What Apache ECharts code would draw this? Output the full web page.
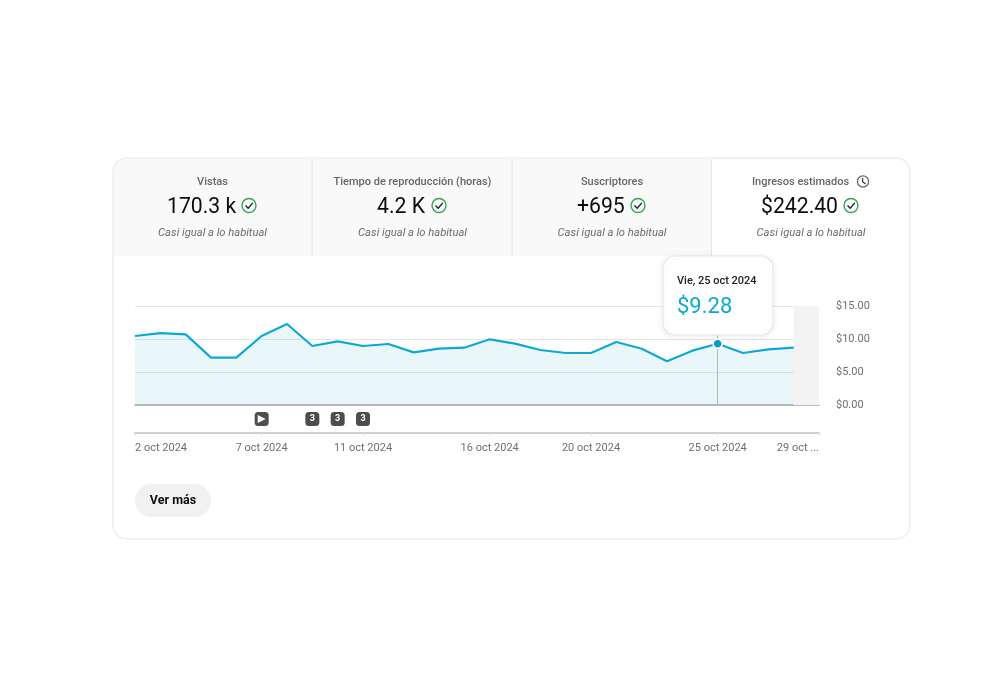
<!DOCTYPE html>
<html>
<head>
<meta charset="utf-8">
<style>html,body{margin:0;padding:0;background:#fff}#c{width:1000px;height:700px}</style>
<script src="https://cdn.jsdelivr.net/npm/echarts@6/dist/echarts.min.js"></script>
</head>
<body>
<div id="c"></div>
<script>
const days = [2,3,4,5,6,7,8,9,10,11,12,13,14,15,16,17,18,19,20,21,22,23,24,25,26,27,28,29];
const revenue = [10.45,10.9,10.7,7.17,7.17,10.45,12.27,8.94,9.65,8.94,9.24,7.98,8.53,8.68,9.95,9.3,8.33,7.88,7.88,9.55,8.53,6.62,8.23,9.28,7.88,8.44,8.68,null];
const labelledDays = [2,7,11,16,20,25,29];
const yTicks = [0,5,10,15];
const playDays = [7];
const badgeDays = [9,10,11];
const badgeText = '3';
const highlightDay = 25;
const partialDay = 28;
const metricTitles = ['Vistas','Tiempo de reproducción (horas)','Suscriptores','Ingresos estimados'];
const metricValues = ['170.3 k','4.2 K','+695','$242.40'];
const metricNote = 'Casi igual a lo habitual';
const tooltipDate = 'Vie, 25 oct 2024';
const tooltipValue = '$9.28';
const buttonText = 'Ver más';

const FONT = 'Roboto, sans-serif';
const BLUE = '#0da8d3';
const cats = days.map(d => d + ' oct 2024');
const catOf = d => d + ' oct 2024';

const gfx = [];
const card = {x:113,y:158,w:797,h:381};
gfx.push({type:'rect',z:-10,shape:{x:card.x,y:card.y,width:card.w,height:card.h,r:14},
  style:{fill:'#fff',stroke:'#eeeeee',lineWidth:1.5}});
gfx.push({type:'rect',z:-9,shape:{x:card.x+1,y:card.y+1,width:598,height:97,r:[13,0,0,0]},style:{fill:'#f9f9f9'}});
[312,512,711.5].forEach(x=>gfx.push({type:'line',z:-8,shape:{x1:x,y1:159,x2:x,y2:256},style:{stroke:'#e6e6e6',lineWidth:1}}));

const centers = [212.5,412.5,612,811];
const titleCenter = [212.5,412.5,612,800.5];
const valueLeft = [167,377,577,761];
const iconX = [249,439,638,851];
metricTitles.forEach((t,i)=>{
  gfx.push({type:'text',z:5,style:{text:t,x:titleCenter[i],y:182,align:'center',verticalAlign:'middle',font:'500 11px '+FONT,fill:'#666'}});
  gfx.push({type:'text',z:5,style:{text:metricValues[i],x:valueLeft[i],y:208,align:'left',verticalAlign:'middle',font:'400 21.2px '+FONT,fill:'#0d0d0d'}});
  gfx.push({type:'text',z:5,style:{text:metricNote,x:centers[i],y:233.5,align:'center',verticalAlign:'middle',font:'italic 400 11.2px '+FONT,fill:'#6b6b6b'}});
  gfx.push({type:'circle',z:5,shape:{cx:iconX[i],cy:205.5,r:7},style:{fill:'none',stroke:'#2ba84f',lineWidth:1.4}});
  gfx.push({type:'polyline',z:5,shape:{points:[[iconX[i]-3.5,205.5],[iconX[i]-0.8,208.2],[iconX[i]+3.8,202.8]]},style:{fill:'none',stroke:'#1c1c1c',lineWidth:1.3}});
});
gfx.push({type:'circle',z:5,shape:{cx:863,cy:181.5,r:5.6},style:{fill:'none',stroke:'#666',lineWidth:1.3}});
gfx.push({type:'polyline',z:5,shape:{points:[[862.6,178],[862.6,181.8],[865.5,184]]},style:{fill:'none',stroke:'#333',lineWidth:1.2}});

gfx.push({type:'rect',z:100,shape:{x:663,y:256,width:110,height:79,r:12},
  style:{fill:'#fff',stroke:'#e8e8e8',lineWidth:1.2,shadowBlur:6,shadowColor:'rgba(0,0,0,0.08)',shadowOffsetY:1}});
gfx.push({type:'text',z:101,style:{text:tooltipDate,x:677,y:281.5,align:'left',verticalAlign:'middle',font:'500 11px '+FONT,fill:'#222'}});
gfx.push({type:'text',z:101,style:{text:tooltipValue,x:677,y:307.5,align:'left',verticalAlign:'middle',font:'400 22px '+FONT,fill:BLUE}});

gfx.push({type:'rect',z:5,shape:{x:135,y:484,width:76,height:33,r:16.5},style:{fill:'#f1f1f1'}});
gfx.push({type:'text',z:6,style:{text:buttonText,x:173,y:501,align:'center',verticalAlign:'middle',font:'700 12.5px '+FONT,fill:'#0d0d0d'}});

const chart = echarts.init(document.getElementById('c'));
chart.setOption({
  animation:false,
  backgroundColor:'#fff',
  textStyle:{fontFamily:FONT},
  graphic:{elements:gfx},
  grid:[
    {left:135,right:181,top:306,height:99},
    {left:135,right:181,top:405,height:28}
  ],
  xAxis:[
    {type:'category',gridIndex:0,data:cats,boundaryGap:false,
     axisLine:{show:true,lineStyle:{color:'#a9a9a9',width:1.5}},axisTick:{show:false},axisLabel:{show:false},splitLine:{show:false}},
    {type:'category',gridIndex:1,data:cats,boundaryGap:false,
     axisLine:{show:true,lineStyle:{color:'#cfcfcf',width:2}},
     axisTick:{show:true,length:3,lineStyle:{color:'#e2e2e2'},interval:(i)=>labelledDays.includes(days[i])},
     axisLabel:{show:true,margin:10,fontSize:11,color:'#6f6f6f',fontFamily:FONT,
       interval:(i)=>labelledDays.includes(days[i]),
       alignMinLabel:'left',alignMaxLabel:'right',showMinLabel:true,showMaxLabel:true,
       formatter:(v)=> v===catOf(days[days.length-1]) ? v.slice(0,6)+' ...' : v},
     splitLine:{show:false}}
  ],
  yAxis:[
    {type:'value',gridIndex:0,position:'right',min:0,max:15,interval:5,
     axisLine:{show:false},axisTick:{show:false},
     axisLabel:{margin:17,fontSize:11,color:'#6f6f6f',fontFamily:FONT,lineHeight:11,verticalAlign:'middle',padding:[6,0,0,0],formatter:v=>yTicks.includes(v)?'$'+v.toFixed(2):''},
     splitLine:{show:true,lineStyle:{color:'#e6e6e6',width:1}}},
    {type:'value',gridIndex:1,min:0,max:2,show:false}
  ],
  series:[
    {type:'line',xAxisIndex:0,yAxisIndex:0,data:revenue,z:3,
     showSymbol:false,symbol:'none',connectNulls:false,
     lineStyle:{color:BLUE,width:2.2,shadowColor:'rgba(255,255,255,0.9)',shadowBlur:2},
     areaStyle:{color:'rgba(13,168,211,0.13)'},
     markArea:{silent:true,z:1,itemStyle:{color:'#f3f3f3'},data:[[{xAxis:catOf(partialDay)},{xAxis:catOf(29)}]]},
     markLine:{silent:true,symbol:'none',label:{show:false},z:2,lineStyle:{color:'#b3bec2',width:1,type:'solid'},data:[{xAxis:catOf(highlightDay)}]}
    },
    {type:'scatter',xAxisIndex:0,yAxisIndex:0,z:6,symbol:'circle',symbolSize:9,
     itemStyle:{color:'#0a9cc6',borderColor:'#fff',borderWidth:1.5,opacity:1},
     data:[[catOf(highlightDay),revenue[days.indexOf(highlightDay)]]]},
    {type:'scatter',xAxisIndex:1,yAxisIndex:1,z:6,symbol:'roundRect',symbolSize:[14,14],
     itemStyle:{color:'#4d4d4d',opacity:1},
     label:{show:true,position:'inside',formatter:badgeText,color:'#fff',fontSize:9,fontWeight:'bold',fontFamily:FONT},
     data:badgeDays.map(d=>[catOf(d),1])},
    {type:'scatter',xAxisIndex:1,yAxisIndex:1,z:6,symbol:'roundRect',symbolSize:[14,14],
     itemStyle:{color:'#4d4d4d',opacity:1},data:playDays.map(d=>[catOf(d),1])},
    {type:'scatter',xAxisIndex:1,yAxisIndex:1,z:7,symbol:'triangle',symbolSize:[8,8],symbolRotate:-90,
     itemStyle:{color:'#fff',opacity:1},data:playDays.map(d=>[catOf(d),1])}
  ]
});
</script>
</body>
</html>
